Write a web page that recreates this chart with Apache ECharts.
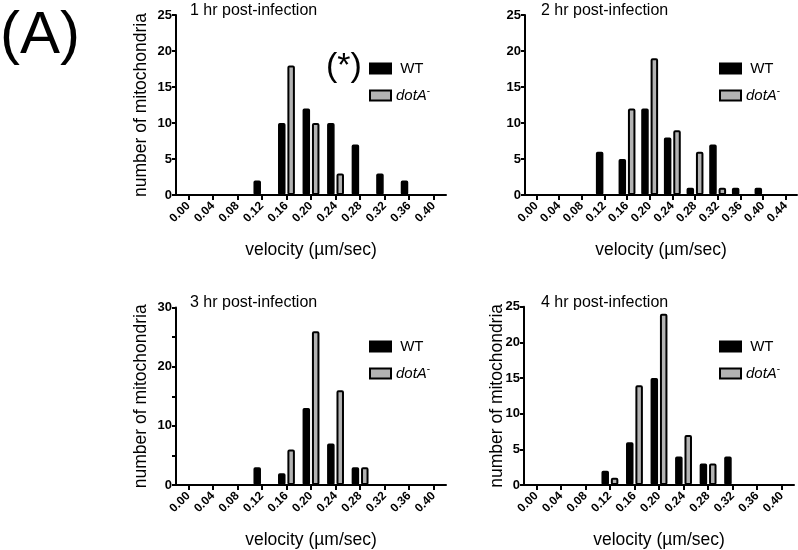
<!DOCTYPE html>
<html>
<head>
<meta charset="utf-8">
<script src="https://cdn.jsdelivr.net/npm/echarts@6/dist/echarts.min.js"></script>
<style>
  html, body { margin: 0; padding: 0; background: #fff; }
  #chart { width: 798px; height: 550px; }
</style>
</head>
<body>
<div id="chart"></div>
<script>
// velocity bins (µm/sec)
const bins40 = ["0.00", "0.04", "0.08", "0.12", "0.16", "0.20", "0.24", "0.28", "0.32", "0.36", "0.40"];
const bins44 = ["0.00", "0.04", "0.08", "0.12", "0.16", "0.20", "0.24", "0.28", "0.32", "0.36", "0.40", "0.44"];

// counts per bin
const wt1 = [0, 0, 0, 2, 10, 12, 10, 7, 3, 2, 0];
const dot1 = [0, 0, 0, 0, 18, 10, 3, 0, 0, 0, 0];
const wt2 = [0, 0, 0, 6, 5, 12, 8, 1, 7, 1, 1, 0];
const dot2 = [0, 0, 0, 0, 12, 19, 9, 6, 1, 0, 0, 0];
const wt3 = [0, 0, 0, 3, 2, 13, 7, 3, 0, 0, 0];
const dot3 = [0, 0, 0, 0, 6, 26, 16, 3, 0, 0, 0];
const wt4 = [0, 0, 0, 2, 6, 15, 4, 3, 4, 0, 0];
const dot4 = [0, 0, 0, 1, 14, 24, 7, 3, 0, 0, 0];

const titles = ["1 hr post-infection", "2 hr post-infection", "3 hr post-infection", "4 hr post-infection"];
const yMax = [25, 25, 30, 25];
const yStep = [5, 5, 10, 5];

const FONT = "Liberation Sans";

const grids = [
  { left: 176, top: 15, width: 270, height: 180 },
  { left: 525, top: 15, width: 272, height: 180 },
  { left: 176, top: 307.5, width: 270, height: 180 },
  { left: 524, top: 306.7, width: 270, height: 180 },
];

const panels = [
  { cats: bins40, wt: wt1, dot: dot1, yName: "number of mitochondria", xName: "velocity (\u00b5m/sec)" },
  { cats: bins44, wt: wt2, dot: dot2, yName: "", xName: "velocity (\u00b5m/sec)" },
  { cats: bins40, wt: wt3, dot: dot3, yName: "number of mitochondria", xName: "velocity (\u00b5m/sec)" },
  { cats: bins40, wt: wt4, dot: dot4, yName: "number of mitochondria", xName: "velocity (\u00b5m/sec)" },
];

const axisLine = { show: true, lineStyle: { color: "#000", width: 2 } };

const xAxes = panels.map((p, i) => ({
  type: "category",
  gridIndex: i,
  data: p.cats,
  boundaryGap: true,
  axisLine: axisLine,
  axisTick: { show: true, alignWithLabel: true, length: 5, lineStyle: { color: "#000", width: 2 } },
  axisLabel: {
    interval: 0, rotate: 45, margin: 9,
    color: "#000", fontWeight: "bold", fontSize: 12, fontFamily: FONT,
  },
  name: p.xName,
  nameLocation: "middle",
  nameGap: 46,
  nameMoveOverlap: false,
  nameTextStyle: { color: "#000", fontSize: 17.5, fontFamily: FONT },
  splitLine: { show: false },
}));

const yAxes = panels.map((p, i) => ({
  type: "value",
  gridIndex: i,
  min: 0,
  max: yMax[i],
  interval: yStep[i],
  axisLine: axisLine,
  axisTick: { show: true, length: 4, lineStyle: { color: "#000", width: 2 } },
  minorTick: { show: i === 2, splitNumber: 2, length: 4, lineStyle: { color: "#000", width: 2 } },
  axisLabel: { color: "#000", fontWeight: "bold", fontSize: 13, fontFamily: FONT, margin: 4 },
  splitLine: { show: false },
  name: p.yName,
  nameLocation: "middle",
  nameGap: i === 3 ? 18 : 26,
  nameMoveOverlap: false,
  nameTextStyle: { color: "#000", fontSize: 17.5, fontFamily: FONT },
}));

const toBars = arr => arr.map(v => (v === 0 ? "-" : v));

const series = [];
panels.forEach((p, i) => {
  series.push({
    name: "WT", type: "bar", xAxisIndex: i, yAxisIndex: i,
    data: toBars(p.wt), barWidth: 7.5, barGap: "25%",
    itemStyle: { color: "#000", borderColor: "#000", borderWidth: 1.5, borderRadius: 1 },
  });
  series.push({
    name: "dotA", type: "bar", xAxisIndex: i, yAxisIndex: i,
    data: toBars(p.dot), barWidth: 7.5, barGap: "25%",
    itemStyle: { color: "#b3b3b3", borderColor: "#000", borderWidth: 2, borderRadius: 1 },
  });
});

const legendPos = [
  { left: 369, top: 61 },
  { left: 719, top: 61 },
  { left: 369, top: 339 },
  { left: 719, top: 339 },
];

const legends = legendPos.map(pos => ({
  left: pos.left, top: pos.top,
  orient: "vertical",
  data: ["WT", "dotA"],
  icon: "rect",
  itemWidth: 21, itemHeight: 10, itemGap: 10, padding: 0,
  selectedMode: false,
  formatter: name => (name === "dotA" ? "{i|dotA}{s|-}" : " " + name),
  textStyle: {
    color: "#000", fontSize: 15, fontFamily: FONT,
    rich: {
      i: { fontStyle: "italic", fontSize: 15, fontFamily: FONT, color: "#000" },
      s: { fontSize: 10, fontFamily: FONT, color: "#000", padding: [0, 0, 9, 0] },
    },
  },
}));

const titleItems = titles.map((t, i) => ({
  text: t,
  left: i % 2 === 0 ? 190 : 541,
  top: i < 2 ? 3 : 295,
  padding: 0,
  textStyle: { color: "#000", fontSize: 16, fontWeight: "normal", fontFamily: FONT },
}));

const chart = echarts.init(document.getElementById("chart"));
chart.setOption({
  animation: false,
  backgroundColor: "#fff",
  title: titleItems,
  legend: legends,
  grid: grids,
  xAxis: xAxes,
  yAxis: yAxes,
  series: series,
  graphic: [
    { type: "text", left: 0, top: 6, style: { text: "(A)", fontSize: 60, fontFamily: FONT, fill: "#000" } },
    { type: "text", left: 326, top: 50, style: { text: "(*)", fontSize: 34, fontFamily: FONT, fill: "#000" } },
  ],
});
</script>
</body>
</html>
